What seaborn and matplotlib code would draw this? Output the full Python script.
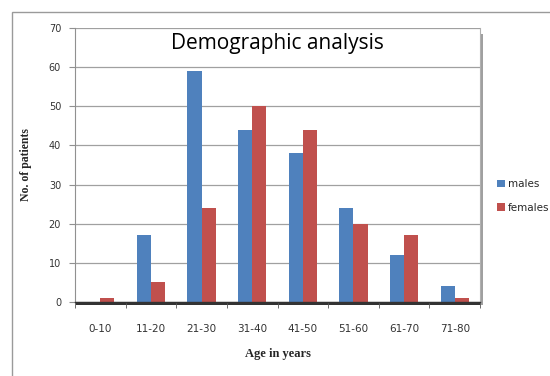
import matplotlib
matplotlib.use("Agg")
import matplotlib.pyplot as plt
import seaborn as sns
import pandas as pd
from matplotlib.patches import Rectangle

categories = ["0-10", "11-20", "21-30", "31-40", "41-50", "51-60", "61-70", "71-80"]
males = [0, 17, 59, 44, 38, 24, 12, 4]
females = [1, 5, 24, 50, 44, 20, 17, 1]
series_names = ["males", "females"]
yticks = [0, 10, 20, 30, 40, 50, 60, 70]

df = pd.DataFrame({
    "age": categories * 2,
    "count": males + females,
    "sex": [series_names[0]] * len(categories) + [series_names[1]] * len(categories),
})

sns.set_style("white")
W, H = 550, 376
fig = plt.figure(figsize=(W / 100, H / 100), dpi=100)

# outer frame
fig.patches.append(Rectangle((12 / W, -0.01), 1.0, 1 - 12 / H + 0.01, transform=fig.transFigure,
                             facecolor="white", edgecolor="#9a9a9a", linewidth=1.0, zorder=-3))

l, r, b, t = 75 / W, 480 / W, 1 - 302 / H, 1 - 28 / H
# shadow of plot area
fig.patches.append(Rectangle((l + 3 / W, b - 3 / H), r - l, t - b - 3 / H, transform=fig.transFigure,
                             facecolor="#a0a0a0", edgecolor="none", zorder=-2))
fig.patches.append(Rectangle((l + 1 / W, b - 3 / H), r - l - 1 / W, 3 / H, transform=fig.transFigure,
                             facecolor="#333333", edgecolor="none", zorder=-1))

ax = fig.add_axes([l, b, r - l, t - b])
ax.set_zorder(1)
ax.set_facecolor("white")
sns.barplot(data=df, x="age", y="count", hue="sex", order=categories, hue_order=series_names,
            palette=["#4F81BD", "#C0504D"], width=0.56, gap=0, saturation=1, ax=ax,
            edgecolor="none")

ax.set_ylim(0, 70)
ax.set_yticks(yticks)
ax.set_xlim(-0.5, len(categories) - 0.5)
ax.grid(axis="y", color="#a0a0a0", linewidth=0.9)
ax.set_axisbelow(True)
ax.spines["top"].set_visible(False)
ax.spines["right"].set_color("#b0b0b0")
ax.spines["left"].set_color("#909090")
ax.spines["bottom"].set_color("#333333")
ax.spines["bottom"].set_linewidth(1.0)

ax.tick_params(axis="y", length=4, color="#909090", labelsize=7, labelcolor="#333333", pad=6, left=True)
ax.tick_params(axis="x", length=0, labelsize=7.5, labelcolor="#333333", pad=16)
ax.set_xticks(range(len(categories)))
ax.set_xticklabels(categories, family="DejaVu Sans")
ax.set_xticks([i + 0.5 for i in range(-1, len(categories))], minor=True)
ax.tick_params(axis="x", which="minor", length=4, color="#555555", bottom=True)

ax.set_xlabel("Age in years", family="Liberation Serif", fontweight="bold", fontsize=9, labelpad=10)
ax.set_ylabel("No. of patients", family="Liberation Serif", fontweight="bold", fontsize=8.5, labelpad=12)

ax.text(0.5, 0.98, "Demographic analysis", transform=ax.transAxes, ha="center", va="top",
        fontsize=15, family="Open Sans", color="black")

handles, labels = ax.get_legend_handles_labels()
ax.legend(handles, labels, loc="center left", bbox_to_anchor=(490 / W, 1 - 196 / H),
          bbox_transform=fig.transFigure, frameon=False, fontsize=7.5, handlelength=0.7,
          handleheight=0.7, handletextpad=0.3, labelspacing=1.3, borderpad=0.2)

fig.savefig("out.png", dpi=100)
